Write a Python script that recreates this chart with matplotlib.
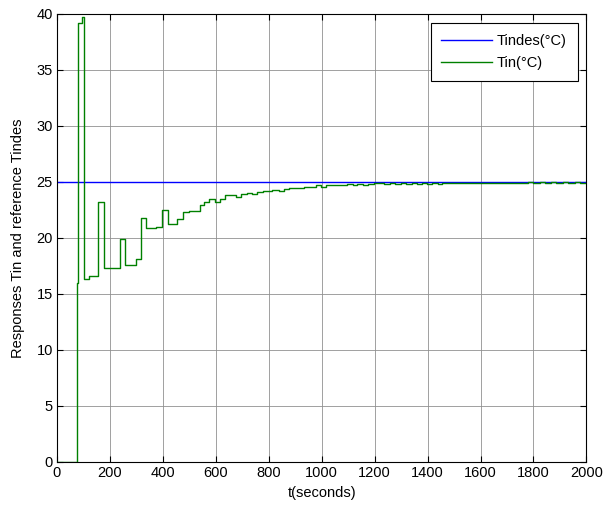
import matplotlib
matplotlib.use("Agg")
import matplotlib.pyplot as plt

t_in = [0, 77, 81, 94, 103, 120, 156, 177, 238, 256, 299, 317, 336, 375,
        397, 418, 453, 476, 497, 539, 557, 576, 598, 615, 635, 678, 696,
        718, 737, 756, 779, 814, 837, 857, 876, 933, 977, 999, 1018, 1097,
        1118, 1135, 1156, 1175, 1198, 1237, 1258, 1278, 1298, 1319, 1340,
        1360, 1378, 1398, 1415, 1438, 1456, 1779, 1798, 1823, 1842, 1867,
        1886, 1912, 1930, 1956, 1975, 2000]
tin = [0, 16.0, 39.2, 39.7, 16.3, 16.6, 23.2, 17.3, 19.9, 17.6, 18.1, 21.8,
       20.9, 21.0, 22.5, 21.25, 21.7, 22.3, 22.4, 22.9, 23.2, 23.45, 23.2,
       23.45, 23.8, 23.7, 23.9, 24.0, 23.95, 24.1, 24.2, 24.3, 24.2, 24.4,
       24.45, 24.58, 24.7, 24.58, 24.7, 24.79, 24.7, 24.79, 24.7, 24.79,
       24.88, 24.79, 24.88, 24.79, 24.88, 24.79, 24.88, 24.79, 24.88, 24.79,
       24.88, 24.79, 24.88, 25.0, 24.88, 25.0, 24.88, 25.0, 24.88, 25.0,
       24.88, 25.0, 24.88, 24.88]

t_ref = [0, 2000]
tindes = [25, 25]

x_ticks = list(range(0, 2001, 200))
y_ticks = list(range(0, 41, 5))

plt.rcParams["font.family"] = ["Liberation Sans", "DejaVu Sans"]
plt.rcParams["font.size"] = 10.5

fig = plt.figure(figsize=(6.03, 5.12), dpi=100)
ax = fig.add_axes([0.0945, 0.0977, 0.878, 0.875])

ax.plot(t_ref, tindes, color="#0000ff", lw=1.0, label="Tindes(°C)", zorder=2)
ax.step(t_in, tin, where="post", color="#008000", lw=1.0, label="Tin(°C)",
        zorder=3)

ax.set_xlim(0, 2000)
ax.set_ylim(0, 40)
ax.set_xticks(x_ticks)
ax.set_yticks(y_ticks)
ax.tick_params(direction="in", top=True, right=True, length=4,
               labelsize=10.5, pad=3)
ax.grid(True, color="#909090", linestyle="-", linewidth=0.6)
ax.set_axisbelow(True)

ax.set_xlabel("t(seconds)", fontsize=10.5, labelpad=4)
ax.set_ylabel("Responses Tin and reference Tindes", fontsize=10.5,
              labelpad=8)

leg = ax.legend(loc="upper right", fancybox=False, framealpha=1,
                edgecolor="black", fontsize=10.5, handlelength=3.5,
                handletextpad=0.3, borderpad=0.75, labelspacing=0.55,
                borderaxespad=0.6)
leg.get_frame().set_linewidth(0.8)

fig.savefig("out.png", dpi=100)
